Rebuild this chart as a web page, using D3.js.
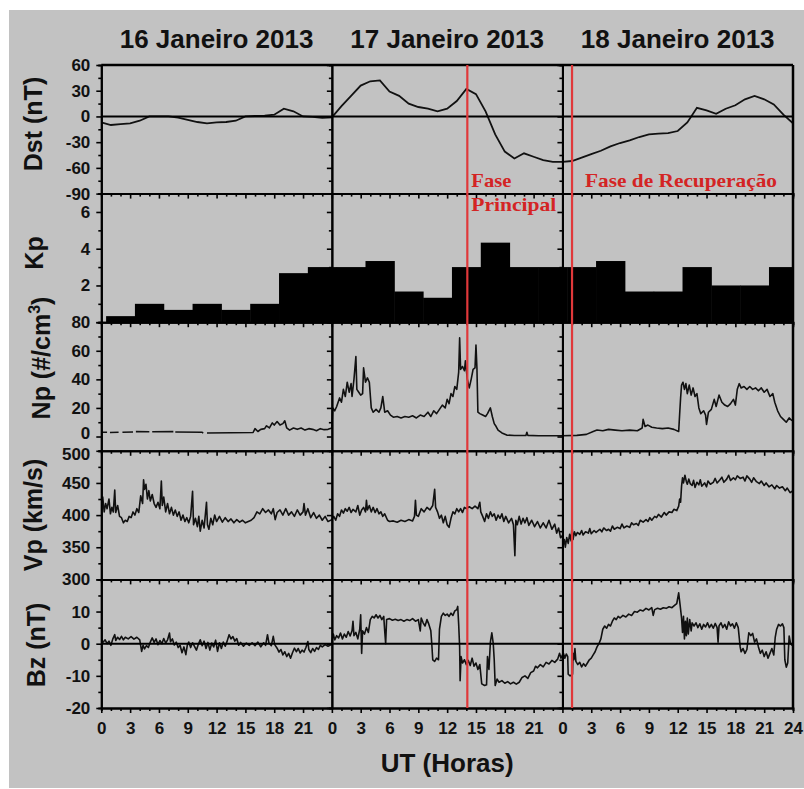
<!DOCTYPE html>
<html>
<head>
<meta charset="utf-8">
<script src="https://cdn.jsdelivr.net/npm/d3@7"></script>
<style>
    body { margin: 0; background: #fff; }
    svg text { font-family: "Liberation Sans", Arial, sans-serif; font-weight: bold; fill: #111; }
    svg text.phaseText { font-family: "Liberation Serif", "Times New Roman", serif; font-weight: bold; fill: #d42424; }
</style>
</head>
<body>
<div id="stormView"></div>
<script>
const dayTitles = ['16 Janeiro 2013', '17 Janeiro 2013', '18 Janeiro 2013'];
const phaseHours = [38.1, 49.0];

// Dst, one value per hour, 16 Jan 00 UT .. 19 Jan 00 UT
const dstHourly = [
    -7, -10, -9, -8, -5, 0, 0, 0, -1.5, -4, -6.5, -8, -7, -6.5, -5, 0, 0.5, 1, 2, 9, 6, 0, -0.5, -1.5,
    -1, 12, 24, 36, 41, 42, 29, 24, 15, 11, 9, 6, 9, 18, 32, 26, 6, -21, -41, -49, -43, -47, -51, -53,
    -53, -52, -48, -44, -40, -35, -31, -28, -24, -21, -20, -19.5, -17, -7, 10, 7, 3, 9, 13, 20, 24, 20, 14, 2, -8
];

// Kp, one value per 3 hour interval
const kpValues = [0.33, 1, 0.67, 1, 0.67, 1, 2.67, 3,
    3, 3.33, 1.67, 1.33, 3, 4.33, 3, 3,
    3, 3.33, 1.67, 1.67, 3, 2, 2, 3];

// [hour, value] pairs, null marks a data gap
const npSeries = [
    [0, 3], [0.6, 3], [0.7, null], [0.9, 2.8], [1.8, 3], [1.9, null], [2.2, 3], [3.3, 3.2], [3.4, null], [3.6, 3.4],
    [5.0, 3.3], [5.1, null], [5.3, 3.3], [7.5, 3.4], [7.6, null], [7.7, 3.2], [10.5, 3.0], [10.6, 2.3], [10.7, null],
    [11.0, 2.5], [13.5, 2.6], [15.8, 2.8], [16.0, 5.5], [16.3, 3.5], [16.6, 5], [17.0, 5.5], [17.2, 7.5], [17.5, 6],
    [17.8, 9.5], [18.0, 8], [18.3, 10.5], [18.6, 8], [18.9, 9], [19.1, 11], [19.3, 6], [19.6, 4.5], [20.0, 6], [20.4, 5],
    [20.8, 6], [21.2, 4.5], [21.6, 5.5], [22.0, 5], [22.4, 4], [22.8, 5.5], [23.2, 4.8], [23.6, 5], [24.0, 6],
    [24.05, 14], [24.1, 20], [24.3, 18], [24.5, 21], [24.8, 27], [25.0, 24], [25.2, 33], [25.4, 28], [25.6, 38], [25.8, 31],
    [26.0, 37], [26.1, 28], [26.3, 40], [26.5, 56], [26.6, 33], [26.8, 31], [27.0, 29], [27.2, 30], [27.3, 48], [27.5, 38],
    [27.7, 41], [27.9, 38], [28.1, 20], [28.3, 17], [28.6, 19], [28.9, 17], [29.1, 20], [29.3, 28], [29.5, 17], [29.8, 18],
    [30.1, 15], [30.4, 13.5], [30.8, 14], [31.2, 13], [31.6, 14], [32.0, 13.5], [32.4, 14.5], [32.8, 13], [33.2, 15],
    [33.6, 14], [34.0, 17], [34.3, 14], [34.6, 18], [34.9, 16], [35.2, 19], [35.5, 22], [35.8, 20], [36.0, 26], [36.2, 23],
    [36.4, 30], [36.6, 28], [36.8, 35], [37.0, 33], [37.2, 45], [37.3, 69], [37.4, 47], [37.6, 49], [37.8, 46], [37.9, 53],
    [38.1, 40], [38.3, 34], [38.5, 40], [38.7, 47], [38.9, 48], [39.0, 64], [39.1, 48], [39.2, 17], [39.4, 16], [39.7, 15],
    [40.0, 14], [40.2, 16], [40.5, 20], [40.7, 14], [40.9, 9], [41.1, 7], [41.3, 4.5], [41.7, 2.5], [42.2, 1], [43, 0.7],
    [44.2, 0.7], [44.3, 3], [44.4, 0.8], [45.5, 0.5], [47, 0.5], [48, 0.5],
    [49.5, 0.8], [50.5, 1.5], [51.2, 3.5], [51.6, 4.5], [52.2, 4], [52.8, 5], [53.5, 4.5], [54.2, 4], [55, 4.5], [55.8, 4],
    [56.3, 6], [56.4, 12], [56.6, 7], [56.9, 8], [57.3, 6.5], [57.8, 6], [58.4, 5.5], [59, 6], [59.6, 5], [60.1, 3.5],
    [60.2, 15.5], [60.3, 27], [60.4, 36], [60.55, 38], [60.7, 33], [60.85, 37], [61.0, 30], [61.2, 36], [61.4, 29],
    [61.6, 34], [61.8, 28], [62.0, 30], [62.2, 20], [62.4, 16], [62.7, 18], [62.9, 15], [63.0, 8.5], [63.2, 17], [63.5, 19],
    [63.8, 26], [64.0, 21], [64.3, 29], [64.6, 24], [64.9, 22], [65.2, 21], [65.5, 23], [65.8, 26], [66.0, 22], [66.2, 33],
    [66.4, 37], [66.6, 34], [66.9, 35], [67.2, 33], [67.5, 35], [67.8, 33], [68.1, 34], [68.4, 32], [68.7, 34], [69.0, 31],
    [69.3, 33], [69.6, 28], [69.9, 30], [70.1, 24], [70.4, 18], [70.7, 14], [71.0, 12], [71.3, 10], [71.6, 13], [71.9, 11]
];

const vpSeries = [
    [0, 420], [0.15, 428], [0.3, 405], [0.45, 418], [0.6, 410], [0.8, 425], [0.95, 402], [1.1, 412], [1.25, 405], [1.4, 439],
    [1.5, 404], [1.7, 415], [1.9, 398], [2.1, 396], [2.3, 388], [2.5, 392], [2.7, 390], [2.9, 398], [3.1, 396], [3.3, 405],
    [3.5, 400], [3.7, 410], [3.9, 404], [4.1, 430], [4.3, 418], [4.4, 455], [4.5, 440], [4.65, 448], [4.8, 425], [4.95, 438],
    [5.1, 422], [5.3, 432], [5.5, 418], [5.7, 412], [5.9, 420], [6.1, 410], [6.25, 453], [6.35, 415], [6.5, 428], [6.7, 405],
    [6.9, 418], [7.1, 402], [7.3, 412], [7.5, 400], [7.7, 408], [7.9, 398], [8.1, 405], [8.3, 392], [8.5, 400], [8.7, 390],
    [8.9, 396], [9.1, 388], [9.3, 398], [9.5, 437], [9.6, 385], [9.8, 395], [10.0, 382], [10.15, 398], [10.3, 375],
    [10.5, 392], [10.7, 380], [10.95, 420], [11.05, 385], [11.2, 378], [11.4, 395], [11.6, 385], [11.8, 400], [12.0, 390],
    [12.3, 398], [12.6, 389], [12.9, 396], [13.2, 390], [13.5, 394], [13.8, 388], [14.1, 393], [14.4, 389], [14.7, 392],
    [15.0, 388], [15.3, 390], [15.6, 392], [15.9, 396], [16.2, 405], [16.5, 402], [16.8, 410], [17.1, 404], [17.4, 408],
    [17.7, 402], [17.9, 410], [18.1, 393], [18.3, 404], [18.6, 408], [18.9, 400], [19.2, 410], [19.5, 400], [19.8, 405],
    [20.1, 398], [20.4, 408], [20.7, 400], [21.0, 405], [21.1, 418], [21.25, 400], [21.5, 410], [21.8, 396], [22.1, 404],
    [22.4, 395], [22.7, 400], [23.0, 392], [23.3, 398], [23.6, 390], [24.0, 393],
    [24.2, 398], [24.4, 392], [24.6, 402], [24.8, 398], [25.0, 408], [25.2, 403], [25.4, 410], [25.6, 406], [25.8, 412],
    [26.0, 404], [26.2, 409], [26.5, 405], [26.7, 415], [26.9, 400], [27.1, 408], [27.3, 412], [27.5, 405], [27.6, 423],
    [27.7, 408], [27.9, 415], [28.1, 405], [28.3, 412], [28.5, 404], [28.7, 410], [28.9, 402], [29.1, 405], [29.3, 398],
    [29.5, 402], [29.8, 392], [30.0, 390], [30.4, 391], [30.8, 389], [31.2, 392], [31.6, 390], [32.0, 393], [32.4, 391],
    [32.6, 398], [32.7, 423], [32.8, 400], [33.0, 398], [33.3, 410], [33.6, 405], [33.9, 412], [34.2, 408], [34.5, 415],
    [34.7, 440], [34.8, 412], [35.0, 405], [35.2, 395], [35.4, 400], [35.6, 388], [35.8, 398], [36.0, 385], [36.2, 381],
    [36.4, 395], [36.6, 405], [36.8, 402], [37.0, 410], [37.2, 405], [37.4, 410], [37.6, 404], [37.8, 412], [38.0, 410],
    [38.3, 413], [38.6, 410], [38.9, 414], [39.2, 410], [39.4, 420], [39.5, 405], [39.7, 398], [39.9, 390], [40.1, 402],
    [40.3, 395], [40.5, 405], [40.7, 398], [40.9, 402], [41.1, 392], [41.3, 400], [41.5, 395], [41.7, 402], [41.9, 390],
    [42.1, 398], [42.4, 388], [42.7, 395], [42.9, 385], [43.05, 337], [43.15, 392], [43.3, 385], [43.5, 398], [43.7, 386],
    [43.9, 395], [44.1, 388], [44.3, 396], [44.5, 384], [44.8, 392], [45.1, 382], [45.4, 390], [45.7, 380], [46.0, 388],
    [46.3, 380], [46.6, 392], [46.9, 378], [47.2, 386], [47.4, 372], [47.6, 380], [47.8, 365], [48.0, 368],
    [48.1, 355], [48.2, 362], [48.3, 350], [48.45, 365], [48.6, 356], [48.75, 370], [48.9, 360], [49.0, 383], [49.1, 362],
    [49.25, 374], [49.4, 368], [49.55, 373], [49.8, 370], [50.0, 376], [50.15, 369], [50.4, 374], [50.7, 372], [50.85, 379],
    [51.0, 371], [51.3, 376], [51.5, 373], [51.9, 378], [52.1, 374], [52.3, 380], [52.6, 376], [52.8, 378], [53.0, 375],
    [53.2, 383], [53.4, 378], [53.7, 381], [54.0, 379], [54.2, 386], [54.4, 380], [54.7, 383], [55.0, 381], [55.2, 388],
    [55.4, 385], [55.7, 387], [55.9, 384], [56.1, 392], [56.4, 389], [56.7, 393], [56.9, 390], [57.1, 396], [57.3, 392],
    [57.6, 398], [57.8, 396], [58.0, 401], [58.3, 397], [58.6, 404], [58.8, 400], [59.1, 405], [59.4, 404], [59.6, 409],
    [59.9, 407], [60.1, 414], [60.2, 425], [60.3, 420], [60.4, 445], [60.5, 458], [60.6, 450], [60.75, 462], [60.9, 452],
    [61.0, 448], [61.15, 456], [61.3, 449], [61.5, 446], [61.65, 454], [61.8, 443], [62.0, 451], [62.2, 447], [62.35, 455],
    [62.5, 445], [62.8, 450], [63.0, 444], [63.15, 453], [63.4, 448], [63.7, 451], [63.9, 457], [64.1, 450], [64.4, 455],
    [64.6, 459], [64.8, 451], [65.1, 456], [65.3, 462], [65.5, 454], [65.8, 458], [66.0, 455], [66.2, 461], [66.5, 457],
    [66.8, 459], [67.0, 453], [67.2, 461], [67.5, 456], [67.7, 451], [67.9, 458], [68.2, 452], [68.5, 449], [68.7, 453],
    [69.0, 446], [69.2, 450], [69.5, 444], [69.8, 447], [70.1, 441], [70.3, 446], [70.6, 442], [70.9, 444], [71.2, 438],
    [71.4, 442], [71.7, 435], [72.0, 438]
];

const bzSeries = [
    [0, 1], [0.2, 0.5], [0.4, 1.2], [0.6, 0], [0.8, 0.8], [1.0, -0.5], [1.2, 1.5], [1.4, 2.8], [1.5, 1], [1.7, 2], [1.9, 1.3],
    [2.1, 2.3], [2.3, 1.2], [2.5, 2], [2.8, 1.5], [3.1, 2.2], [3.4, 1.4], [3.7, 2], [4.0, 1.2], [4.2, -2.4], [4.35, -0.5],
    [4.5, -1.6], [4.7, -0.6], [4.9, -1.2], [5.1, 0.5], [5.3, 1.8], [5.5, 0.4], [5.7, 1.5], [5.9, -0.3], [6.1, 1], [6.3, 0],
    [6.5, 1.6], [6.7, 0.2], [6.9, 1.2], [7.1, 3.3], [7.2, 0.6], [7.4, 1.5], [7.6, -0.4], [7.8, 0.5], [8.0, -1.2], [8.2, -0.5],
    [8.4, -2.8], [8.6, -1], [8.8, -3.4], [8.95, -0.5], [9.1, 0.5], [9.3, -1.2], [9.5, 0.3], [9.7, -0.8], [9.9, -2], [10.1, -0.2],
    [10.3, 1.2], [10.5, -0.6], [10.7, 0.8], [10.9, -1.5], [11.1, 0.4], [11.3, -2], [11.5, 0.2], [11.7, -1], [11.9, 1.1],
    [12.1, -2.4], [12.3, 0.3], [12.5, -1.5], [12.7, 0.5], [12.9, -0.8], [13.1, 0.8], [13.3, 2.8], [13.5, 1.5], [13.7, 2.2],
    [13.9, 0.8], [14.1, 1.6], [14.3, -0.5], [14.5, 0.4], [14.8, -0.8], [15.1, 0.2], [15.4, -0.5], [15.7, 0.3], [16.0, -0.6],
    [16.3, 0.5], [16.6, -1], [16.9, 0.3], [17.1, -0.5], [17.3, 2.8], [17.45, 0.2], [17.7, -0.6], [17.9, 2.3], [18.05, -0.3],
    [18.3, -1.4], [18.5, -2.6], [18.7, -1.8], [18.9, -3.5], [19.1, -2.5], [19.3, -4], [19.5, -3], [19.7, -4.5], [19.9, -2.8],
    [20.1, -1.4], [20.3, -2.5], [20.5, -1.5], [20.7, -2.9], [20.9, -2], [21.1, -2.6], [21.3, -1.2], [21.5, 0.7], [21.6, -1.8],
    [21.8, -2.8], [22.0, -1.5], [22.2, -2.4], [22.4, -1.2], [22.6, -1.8], [22.8, -0.5], [23.0, -1], [23.3, -0.3], [23.6, -0.8],
    [24.0, -0.2],
    [24.05, 1.5], [24.15, 3], [24.3, 1.2], [24.5, 2.5], [24.7, 1.8], [24.9, 3.3], [25.1, 1.5], [25.3, 3], [25.5, 2], [25.7, 3.8],
    [25.9, 2.4], [26.1, 4], [26.2, 7], [26.3, 2.5], [26.5, 3.5], [26.7, 1.5], [26.9, 4.5], [27.0, 9], [27.1, -3], [27.2, 4],
    [27.4, 3], [27.6, 5], [27.8, 3.5], [28.0, 7.5], [28.2, 8.5], [28.4, 8], [28.6, 9], [28.8, 8], [29.0, 8.8], [29.2, 7.5],
    [29.4, 8.5], [29.5, 4], [29.6, 0], [29.7, 7.5], [30.0, 7.8], [30.3, 7.3], [30.6, 7.6], [30.9, 7.2], [31.2, 7.5], [31.5, 7],
    [31.8, 7.5], [32.1, 7.2], [32.4, 7.8], [32.7, 7], [33.0, 7.5], [33.2, 4], [33.3, 8], [33.5, 6.5], [33.7, 5.5], [33.9, 7.5],
    [34.1, 6], [34.3, 4], [34.4, 0], [34.5, -5], [34.7, -5.5], [34.9, -4.5], [35.1, -5], [35.2, 4.5], [35.4, 8.5], [35.6, 9.5],
    [35.8, 8.8], [36.0, 9.2], [36.2, 8.5], [36.4, 9.5], [36.6, 8.8], [36.8, 10.2], [37.0, 10.6], [37.1, 11.6], [37.2, 6],
    [37.3, -1], [37.35, -11.5], [37.45, -4], [37.6, -6], [37.8, -5], [38.0, -6.5], [38.2, -5.2], [38.4, -6.8], [38.6, -4.5],
    [38.8, -7], [39.0, -6], [39.2, -8], [39.4, -6.5], [39.6, -12.5], [39.9, -13], [40.1, -12.8], [40.2, -4], [40.35, -8],
    [40.5, 0.5], [40.65, 3.4], [40.8, 0], [40.9, -5], [41.0, -13], [41.2, -11], [41.4, -12], [41.7, -11.5], [42.0, -12.3],
    [42.3, -11.8], [42.6, -12.5], [42.9, -12], [43.2, -12.6], [43.5, -12], [43.8, -10.5], [44.1, -10], [44.4, -10.8],
    [44.7, -9], [45.0, -8.5], [45.2, -7], [45.4, -7.5], [45.7, -6.5], [46.0, -7.2], [46.3, -5.8], [46.6, -6.3], [46.9, -5.2],
    [47.2, -5.8], [47.5, -4.8], [47.7, -3], [47.85, -4.5], [48.0, -3.5],
    [48.1, -3], [48.25, -4.5], [48.4, -3.2], [48.55, -4], [48.6, -9.5], [48.8, -10], [49.05, -9.5], [49.1, -3], [49.2, -5],
    [49.3, -1.5], [49.4, -5.5], [49.6, -6.5], [49.8, -5.8], [50.0, -7.2], [50.2, -6.2], [50.4, -7], [50.6, -6], [50.8, -5],
    [51.0, -4.5], [51.2, -3.5], [51.4, -2.5], [51.6, -1], [51.8, 0], [52.0, 1.5], [52.2, 4.5], [52.4, 5.5], [52.6, 4.8],
    [52.8, 6], [53.0, 5.5], [53.2, 7], [53.4, 8], [53.6, 7.5], [53.8, 8.5], [54.0, 8], [54.3, 8.8], [54.6, 8.3], [54.9, 9.2],
    [55.2, 8.8], [55.5, 10], [55.8, 9.8], [56.1, 10.5], [56.4, 10.2], [56.7, 11], [57.0, 10.5], [57.3, 11.2], [57.45, 8.8],
    [57.6, 10.6], [57.9, 11], [58.2, 10.7], [58.5, 11.2], [58.8, 11], [59.1, 11.5], [59.4, 11.2], [59.7, 12], [59.9, 12.5],
    [60.1, 15.8], [60.25, 12], [60.4, 8], [60.5, 3.5], [60.6, 8.5], [60.7, 1.5], [60.8, 7], [60.9, 2.5], [61.0, 8], [61.1, 3],
    [61.25, 7.5], [61.4, 4], [61.5, 6.5], [61.7, 5.5], [61.9, 6.5], [62.1, 5], [62.3, 6.2], [62.5, 4.5], [62.7, 6], [62.9, 5.2],
    [63.1, 6.5], [63.3, 5], [63.5, 6], [63.7, 4.8], [63.9, 6.3], [64.1, 5], [64.2, 0.5], [64.3, 5.5], [64.5, 6.5], [64.7, 5],
    [64.9, 6], [65.1, 4.5], [65.3, 6.8], [65.5, 5.5], [65.7, 6.2], [65.9, 4.8], [66.1, 6.5], [66.3, 5], [66.5, -1], [66.6, -2.5],
    [66.8, -1.5], [67.0, -3], [67.2, -1.8], [67.4, 3.4], [67.6, 2.5], [67.8, 3.2], [68.0, 0.5], [68.2, 1.5], [68.4, -1],
    [68.6, -3], [68.8, -2], [69.0, -4], [69.2, -2.5], [69.4, -4.5], [69.6, -3], [69.8, -1.5], [70.0, -3.5], [70.15, 2],
    [70.3, 4.5], [70.5, 6], [70.7, 5.5], [70.9, 6.2], [71.05, 5], [71.15, -5], [71.3, -7.3], [71.45, -6], [71.6, 2.4],
    [71.75, 0], [71.9, -0.5], [72, 0]
];

class StormPlot {

    constructor() {
        this.left = 101.3;
        this.right = 793;
        this.top = 65;
        this.bottom = 708;
        // nudge keeps the stacked "0" / "500" labels apart, as in the original
        this.panels = [
            { label: 'Dst (nT)', domain: [-90, 60], major: [-90, -60, -30, 0, 30, 60], minor: [-75, -45, -15, 15, 45], shown: [-90, -60, -30, 0, 30, 60], lx: 42, ly: 124, nudge: {} },
            { label: 'Kp', domain: [0, 7], major: [0, 2, 4, 6], minor: [1, 3, 5], shown: [2, 4, 6], lx: 43, ly: 253, nudge: {} },
            { label: 'Np', domain: [-10, 80], major: [0, 20, 40, 60, 80], minor: [10, 30, 50, 70], shown: [0, 20, 40, 60, 80], lx: 50, ly: 358, nudge: { 0: -3 } },
            { label: 'Vp (km/s)', domain: [300, 500], major: [300, 350, 400, 450, 500], minor: [325, 375, 425, 475], shown: [300, 350, 400, 450, 500], lx: 42, ly: 515, nudge: { 500: 3 } },
            { label: 'Bz (nT)', domain: [-20, 20], major: [-20, -10, 0, 10, 20], minor: [-15, -5, 5, 15], shown: [-20, -10, 0, 10], lx: 45, ly: 645, nudge: {} }
        ];
    }

    createChart() {

        let svg = d3.select('#stormView')
            .append('svg')
            .attr('width', 804)
            .attr('height', 789);

        svg.append('rect')
            .attr('x', 9).attr('y', 10)
            .attr('width', 795).attr('height', 778)
            .attr('fill', '#c2c2c2');

        this.xScale = d3.scaleLinear()
            .domain([0, 72])
            .range([this.left, this.right]);

        let ph = (this.bottom - this.top) / this.panels.length;
        this.panels.forEach((p, i) => {
            p.y0 = this.top + i * ph;
            p.y1 = p.y0 + ph;
            p.yScale = d3.scaleLinear().domain(p.domain).range([p.y1, p.y0]);
            svg.append('clipPath').attr('id', 'clip' + i)
                .append('rect')
                .attr('x', this.left).attr('y', p.y0)
                .attr('width', this.right - this.left).attr('height', ph);
        });

        let x = this.xScale;
        let [dst, kp, np, vp, bz] = this.panels;

        // Dst hourly line
        svg.append('path')
            .datum(dstHourly)
            .attr('clip-path', 'url(#clip0)')
            .attr('fill', 'none').attr('stroke', '#111').attr('stroke-width', 1.8)
            .attr('d', d3.line().x((d, i) => x(i)).y(d => dst.yScale(d)));

        // Kp bars, 3 h wide
        svg.append('g')
            .attr('clip-path', 'url(#clip1)')
            .selectAll('rect')
            .data(kpValues)
            .join('rect')
            .attr('x', (d, i) => x(i * 3 + 0.5))
            .attr('width', x(3) - x(0) + 0.5)
            .attr('y', d => kp.yScale(d))
            .attr('height', d => kp.yScale(0) - kp.yScale(d))
            .attr('fill', '#000');

        let series = [[np, npSeries, 2], [vp, vpSeries, 3], [bz, bzSeries, 4]];
        series.forEach(([p, data, ci]) => {
            svg.append('path')
                .datum(data)
                .attr('clip-path', 'url(#clip' + ci + ')')
                .attr('fill', 'none').attr('stroke', '#111').attr('stroke-width', 1.6)
                .attr('stroke-linejoin', 'round')
                .attr('d', d3.line()
                    .defined(d => d[1] !== null)
                    .x(d => x(d[0]))
                    .y(d => p.yScale(d[1])));
        });

        // zero reference lines
        [dst, bz].forEach(p => {
            svg.append('line')
                .attr('x1', this.left).attr('x2', this.right)
                .attr('y1', p.yScale(0)).attr('y2', p.yScale(0))
                .attr('stroke', '#000').attr('stroke-width', 2);
        });

        // axes for every panel and day
        this.panels.forEach((p, i) => {
            for (let d = 0; d < 3; d++) {
                let gx = svg.append('g').attr('transform', `translate(${x(d * 24)},0)`);
                gx.call(d3.axisLeft(p.yScale).tickValues(p.minor).tickSize(3).tickFormat(''));
                let ax = d3.axisLeft(p.yScale).tickValues(p.major).tickSize(5).tickSizeOuter(0).tickPadding(6)
                    .tickFormat(v => (d === 0 && p.shown.includes(v)) ? String(v) : '');
                let ga = gx.append('g').call(ax);
                ga.selectAll('.tick text')
                    .attr('y', v => p.nudge[v] || 0);
            }
            let gb = svg.append('g').attr('transform', `translate(0,${p.y1})`);
            let minorH = d3.range(0, 72, 1).filter(h => h % 3 !== 0);
            let majorH = d3.range(0, 73, 3);
            gb.call(d3.axisBottom(x).tickValues(minorH).tickSize(3).tickFormat(''));
            gb.append('g').call(d3.axisBottom(x).tickValues(majorH).tickSize(5).tickSizeOuter(0).tickPadding(9)
                .tickFormat(h => {
                    if (i !== this.panels.length - 1) return '';
                    return (h === 72) ? '24' : String(h % 24);
                }));
        });

        svg.selectAll('.domain').attr('stroke', '#000').attr('stroke-width', 2);
        svg.selectAll('.tick line').attr('stroke', '#000').attr('stroke-width', 1.6);
        svg.selectAll('.tick text').attr('font-size', 17).attr('fill', '#111');

        // frame
        svg.append('line')
            .attr('x1', this.left).attr('x2', this.right)
            .attr('y1', this.top).attr('y2', this.top)
            .attr('stroke', '#000').attr('stroke-width', 2.5);
        svg.append('line')
            .attr('x1', this.right).attr('x2', this.right)
            .attr('y1', this.top).attr('y2', this.bottom)
            .attr('stroke', '#000').attr('stroke-width', 2.5);

        // storm phase markers
        svg.selectAll('.phase')
            .data(phaseHours)
            .join('line')
            .attr('class', 'phase')
            .attr('x1', d => x(d)).attr('x2', d => x(d))
            .attr('y1', this.top).attr('y2', this.bottom)
            .attr('stroke', '#e0383a').attr('stroke-width', 2.2);

        let red = svg.append('g');
        red.append('text').attr('x', x(phaseHours[0]) + 4).attr('y', 187)
            .attr('textLength', 40).text('Fase');
        red.append('text').attr('x', x(phaseHours[0]) + 4).attr('y', 211)
            .attr('textLength', 85).text('Principal');
        red.append('text').attr('x', x(phaseHours[1]) + 13).attr('y', 187)
            .attr('textLength', 192).text('Fase de Recuperação');
        red.selectAll('text')
            .attr('class', 'phaseText')
            .attr('lengthAdjust', 'spacingAndGlyphs')
            .attr('font-size', 19);

        // titles
        svg.selectAll('.dayTitle')
            .data(dayTitles)
            .join('text')
            .attr('class', 'dayTitle')
            .attr('x', (d, i) => x(i * 24 + 12))
            .attr('y', 48)
            .attr('text-anchor', 'middle')
            .attr('font-size', 26)
            .text(d => d);

        // y labels
        this.panels.forEach(p => {
            let t = svg.append('text')
                .attr('transform', `translate(${p.lx},${p.ly}) rotate(-90)`)
                .attr('text-anchor', 'middle')
                .attr('font-size', 25)
                .text(p.label);
            if (p.label === 'Np') {
                t.append('tspan').text(' (#/cm');
                t.append('tspan').attr('font-size', 16).attr('dy', -10).text('3');
                t.append('tspan').attr('dy', 10).text(')');
            }
        });

        svg.append('text')
            .attr('x', (this.left + this.right) / 2)
            .attr('y', 772)
            .attr('text-anchor', 'middle')
            .attr('font-size', 26)
            .text('UT (Horas)');
    }
}

let plot = new StormPlot();
plot.createChart();
</script>
</body>
</html>
